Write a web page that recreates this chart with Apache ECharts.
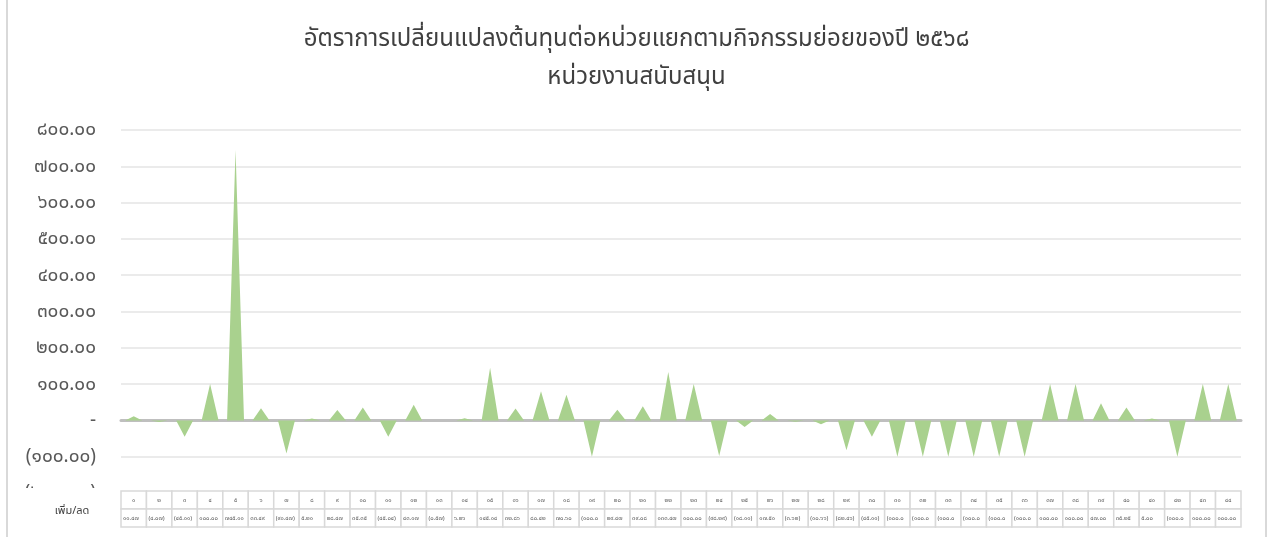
<!DOCTYPE html>
<html>
<head>
<meta charset="utf-8">
<script src="https://cdn.jsdelivr.net/npm/echarts@6/dist/echarts.min.js"></script>
<style>
html,body{margin:0;padding:0;background:#fff;}
#c{width:1273px;height:537px;}
</style>
</head>
<body>
<div id="c"></div>
<script>
const titleLines = ['อัตราการเปลี่ยนแปลงต้นทุนต่อหน่วยแยกตามกิจกรรมย่อยของปี ๒๕๖๘', 'หน่วยงานสนับสนุน'];
const seriesName = 'เพิ่ม/ลด';
const categories = ['1','2','3','4','5','6','7','8','9','10','11','12','13','14','15','16','17','18','19','20','21','22','23','24','25','26','27','28','29','30','31','32','33','34','35','36','37','38','39','40','41','42','43','44'];
const values = [11.47, -4.07, -45.11, 100.00, 745.11, 33.49, -91.47, 5.21, 28.47, 35.35, -45.04, 43.17, -0.57, 6.26, 145.14, 32.86, 80.42, 70.60, -100.00, 29.47, 39.08, 133.47, 100.00, -98.29, -18.11, 17.51, -3.62, -10.66, -82.46, -45.11, -100.00, -100.00, -100.00, -100.00, -100.00, -100.00, 100.00, 100.00, 47.00, 35.25, 5.00, -100.00, 100.00, 100.00];
const yTicks = { min: -200, max: 800, interval: 100 };

const TH = '๐๑๒๓๔๕๖๗๘๙';
function thai(s){ return String(s).replace(/[0-9]/g, d => TH[+d]); }
function fmt(v){
  if (v === 0) return '-';
  const s = thai(Math.abs(v).toFixed(2));
  return v < 0 ? '(' + s + ')' : s;
}

// Each category is split in three sub-slots: baseline, value, baseline (spike shape)
const subCats = [];
const subVals = [];
categories.forEach((c, i) => {
  subCats.push(c + 'a', c, c + 'b');
  subVals.push(0, values[i], 0);
});

const FONT = '"Noto Sans", "Noto Sans Thai", sans-serif';
const chart = echarts.init(document.getElementById('c'), null, {renderer:'canvas'});
chart.setOption({
  animation: false,
  backgroundColor: '#fff',
  title: {
    text: titleLines.join('\n'),
    left: 'center', top: 15,
    textStyle: { fontFamily: FONT, fontSize: 24, fontWeight: 'normal', color: '#404040', lineHeight: 38 }
  },
  grid: { left: 121, right: 32, top: 130, bottom: 44, containLabel: false },
  xAxis: [{
    type: 'category', data: subCats, boundaryGap: true,
    axisLine: { onZero: true, lineStyle: { color: '#bfbfbf', width: 3 } },
    axisTick: { show: false }, axisLabel: { show: false }, splitLine: { show: false }
  }, {
    type: 'category', data: categories, boundaryGap: true, show: false
  }],
  yAxis: {
    type: 'value', min: yTicks.min, max: yTicks.max, interval: yTicks.interval,
    axisLine: { show: false }, axisTick: { show: false },
    axisLabel: { formatter: fmt, fontFamily: FONT, fontSize: 19, color: '#595959', margin: 25 },
    splitLine: { lineStyle: { color: '#ebebeb', width: 2 } }
  },
  series: [{
    name: seriesName, type: 'line', xAxisIndex: 0, data: subVals, symbol: 'none',
    lineStyle: { width: 0 }, areaStyle: { color: '#a9d18e', opacity: 1, origin: 0 },
    z: 1
  }]
});

// Data table built from the (hidden) category axis scale
const g = [];
const px0 = chart.convertToPixel({xAxisIndex:1}, 0);
const px1 = chart.convertToPixel({xAxisIndex:1}, 1);
const cw = px1 - px0;
const tblTop = 491, rh = 18;
g.push({ type:'rect', shape:{x:8, y:tblTop - 3, width:1256, height:49}, style:{fill:'#fff'}, z:50 });
categories.forEach((c, i) => {
  const cx = chart.convertToPixel({xAxisIndex:1}, i);
  const lx = cx - cw/2;
  for (let r = 0; r < 2; r++) {
    g.push({ type:'rect', shape:{x:lx, y:tblTop + r*rh, width:cw, height:rh},
      style:{fill:'#fff', stroke:'#d9d9d9', lineWidth:1.5}, z:51 });
  }
  g.push({ type:'text', x:cx, y:tblTop + rh/2, z:52,
    style:{ text: thai(c), fill:'#595959', font:'6px ' + FONT, align:'center', verticalAlign:'middle' } });
  g.push({ type:'text', x:lx + 2, y:tblTop + rh + rh/2, z:52,
    style:{ text: fmt(values[i]), fill:'#595959', font:'6px ' + FONT, align:'left', verticalAlign:'middle',
      width: cw - 3, overflow:'truncate', ellipsis:'' } });
});
g.push({ type:'text', x:72, y:tblTop + rh + 2, z:52,
  style:{ text: seriesName, fill:'#404040', font:'11px ' + FONT, align:'center', verticalAlign:'middle' } });
g.push({ type:'rect', shape:{x:7, y:-2, width:1259, height:545}, style:{fill:null, stroke:'#d9d9d9', lineWidth:2}, z:60, silent:true });
chart.setOption({ graphic: g });
</script>
</body>
</html>
